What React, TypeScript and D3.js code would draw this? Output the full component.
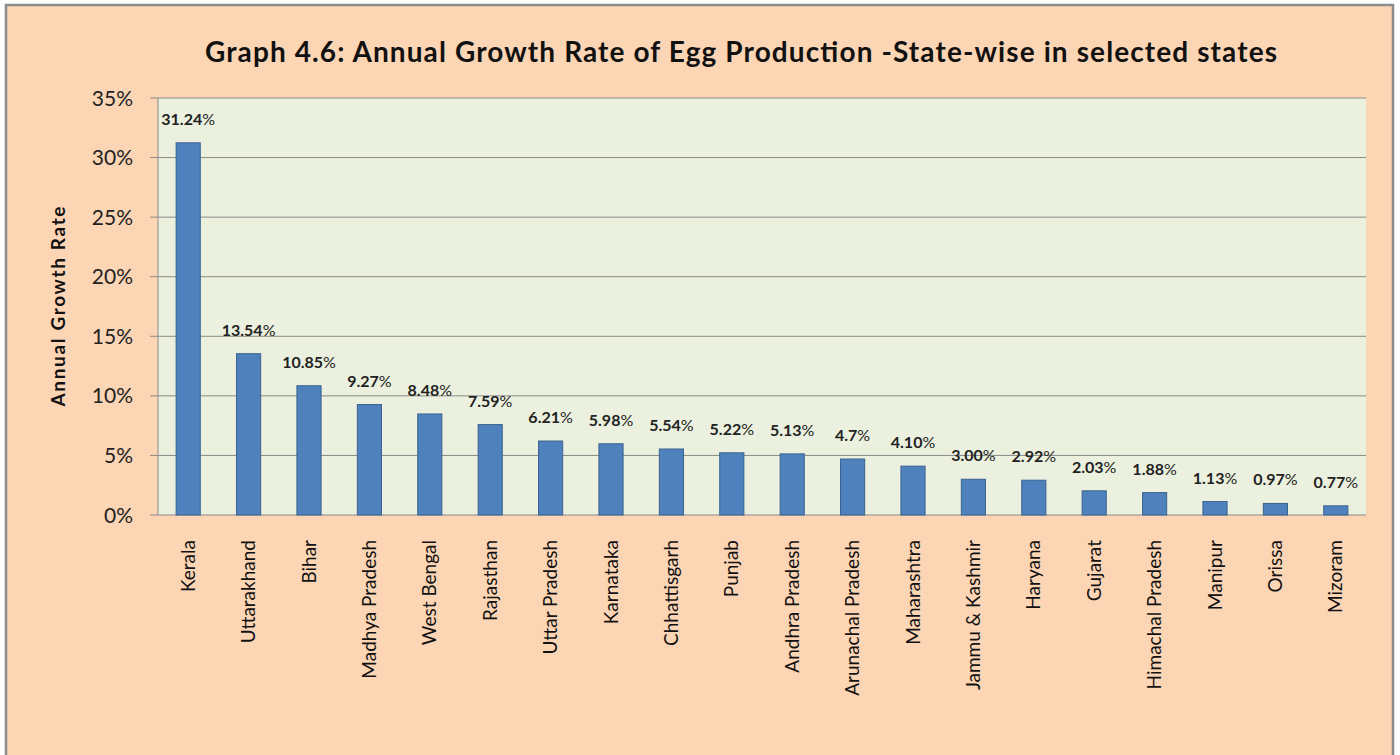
import React from 'react'
import * as d3 from 'd3'

// Data
const states = ['Kerala', 'Uttarakhand', 'Bihar', 'Madhya Pradesh', 'West Bengal', 'Rajasthan', 'Uttar Pradesh', 'Karnataka', 'Chhattisgarh', 'Punjab', 'Andhra Pradesh', 'Arunachal Pradesh', 'Maharashtra', 'Jammu & Kashmir', 'Haryana', 'Gujarat', 'Himachal Pradesh', 'Manipur', 'Orissa', 'Mizoram']
const growth = [31.24, 13.54, 10.85, 9.27, 8.48, 7.59, 6.21, 5.98, 5.54, 5.22, 5.13, 4.7, 4.10, 3.00, 2.92, 2.03, 1.88, 1.13, 0.97, 0.77]
const labels = ['31.24', '13.54', '10.85', '9.27', '8.48', '7.59', '6.21', '5.98', '5.54', '5.22', '5.13', '4.7', '4.10', '3.00', '2.92', '2.03', '1.88', '1.13', '0.97', '0.77']
const yTicks = [0, 5, 10, 15, 20, 25, 30, 35]

const W = 1400
const H = 755
const plot = { left: 158, right: 1366, top: 98, bottom: 515 }
const font = 'Lato, "Open Sans", sans-serif'

export default function App() {
    const x = d3.scaleBand<string>().domain(states).range([ plot.left, plot.right ]).paddingInner(0.6).paddingOuter(0.3)
    const y = d3.scaleLinear().domain([ 0, 35 ]).range([ plot.bottom, plot.top ])

    return (
        <svg width={ W } height={ H } style={ { position: 'absolute', left: 0, top: 0 } } fontFamily={ font }>
            <rect x={ 0 } y={ 0 } width={ W } height={ H } fill="#ffffff"/>
            <rect x={ 6 } y={ 5 } width={ 1387 } height={ 760 } fill="#FCD5B5" stroke="#8c8c8c" strokeWidth={ 2.5 }/>
            <text x={ 205 } y={ 62 } fontSize={ 28 } fontWeight="bold" fill="#111" textLength={ 1072 } lengthAdjust="spacing">
                Graph 4.6: Annual Growth Rate of Egg Production -State-wise in selected states
            </text>

            <rect x={ plot.left } y={ plot.top } width={ plot.right - plot.left } height={ plot.bottom - plot.top } fill="#EBF1DE"/>

            { yTicks.map(t => (
                <g key={ t }>
                    <line x1={ plot.left - 8 } x2={ plot.right } y1={ y(t) } y2={ y(t) } stroke="#8a8a8a" strokeWidth={ 1 }/>
                    <text x={ 133 } y={ y(t) } dy="0.36em" textAnchor="end" fontSize={ 21 } fill="#222">{ t }%</text>
                </g>
            )) }
            <line x1={ plot.left } x2={ plot.left } y1={ plot.top } y2={ plot.bottom } stroke="#8a8a8a"/>

            <text transform={ `translate(65,${ (plot.top + plot.bottom) / 2 }) rotate(-90)` } textAnchor="middle" fontSize={ 19 } fontWeight="bold" fill="#111" textLength={ 200 } lengthAdjust="spacing">
                Annual Growth Rate
            </text>

            { states.map((s, i) => {
                const cx = x(s)! + x.bandwidth() / 2
                return (
                    <g key={ s }>
                        <rect x={ x(s) } y={ y(growth[i]) } width={ x.bandwidth() } height={ y(0) - y(growth[i]) } fill="#4F81BD" stroke="#3B6391" strokeWidth={ 1 }/>
                        <text x={ cx } y={ y(growth[i]) - 18 } textAnchor="middle" fontSize={ 16 } fill="#222">
                            <tspan fontWeight="bold">{ labels[i] }</tspan><tspan>%</tspan>
                        </text>
                        <text transform={ `translate(${ cx },540) rotate(-90)` } dy="0.35em" textAnchor="end" fontSize={ 19 } fill="#111">{ s }</text>
                    </g>
                )
            }) }
        </svg>
    )
}
